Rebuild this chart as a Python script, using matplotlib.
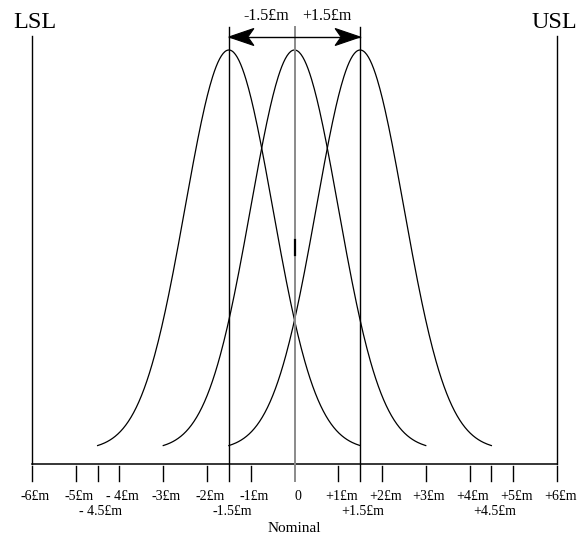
import numpy as np
import matplotlib
matplotlib.use("Agg")
import matplotlib.pyplot as plt
from matplotlib.patches import Polygon

plt.rcParams['font.family'] = ['Liberation Serif', 'DejaVu Serif']

# process means (in sigma units) of the three shifted distributions
means = [-1.5, 0.0, 1.5]
spread = 3.0  # each curve drawn out to +/- 3 sigma

# spec limits
spec_pos = [-6, 6]
spec_names = ["LSL", "USL"]

# axis ticks
major_ticks = [-6, -5, -4, -3, -2, -1, 0, 1, 2, 3, 4, 5, 6]
major_labels = ["-6£m", "-5£m", "- 4£m", "-3£m", "-2£m", "-1£m", "0",
                "+1£m", "+2£m", "+3£m", "+4£m", "+5£m", "+6£m"]
half_ticks = [-4.5, -1.5, 1.5, 4.5]
half_labels = ["- 4.5£m", "-1.5£m", "+1.5£m", "+4.5£m"]
shift_labels = ["-1.5£m", "+1.5£m"]

# vertical layout (pixel-ish units above the axis line)
base, peak = 14, 400
top_lines, top_spec, arrow_y = 437, 428, 427
tick_len = 17

fig = plt.figure(figsize=(5.81, 5.35), dpi=100)
ax = fig.add_axes([0, 0, 1, 1])
ppu = 43.75
ax.set_xlim(-6 - 32 / ppu, -6 + 549 / ppu)
ax.set_ylim(-(535 - 464), 464)
ax.axis("off")

# curves
for m in means:
    x = np.linspace(m - spread, m + spread, 300)
    y = base + peak * np.exp(-0.5 * (x - m) ** 2)
    ax.plot(x, y, color="black", lw=0.9)

# axis line
ax.plot([spec_pos[0], spec_pos[1]], [0, 0], color="black", lw=1.1)

# spec limit lines + labels
for p, name, dx in zip(spec_pos, spec_names, [0.07, -0.07]):
    ax.plot([p, p], [0, top_spec], color="black", lw=1.0)
    ax.text(p + dx, 442, name, fontsize=17.5, ha="center", va="center")

# mean lines
for m in means:
    col = "#8a8a8a" if m == 0 else "black"
    lw = 1.4 if m == 0 else 1.0
    ax.plot([m, m], [-tick_len, top_lines], color=col, lw=lw)
ax.plot([0, 0], [209, 224], color="black", lw=1.6)

# ticks
for t in major_ticks + half_ticks:
    if t in means:
        continue
    ax.plot([t, t], [-2, -tick_len], color="black", lw=1.0)

for t, lab in zip(major_ticks, major_labels):
    ax.text(t + 0.07, -32.5, lab, fontsize=10, ha="center", va="center")
for t, lab in zip(half_ticks, half_labels):
    ax.text(t + 0.07, -47.5, lab, fontsize=10, ha="center", va="center")
ax.text(0, -64, "Nominal", fontsize=11, ha="center", va="center")

# shift arrow (shaft + two stealth heads)
ax.plot([means[0], means[2]], [arrow_y, arrow_y], color="black", lw=1.0)
hl, notch, hw = 25 / ppu, 19 / ppu, 8.5
for tip, d in [(means[0], 1), (means[2], -1)]:
    head = Polygon([(tip, arrow_y), (tip + d * hl, arrow_y + hw),
                    (tip + d * notch, arrow_y), (tip + d * hl, arrow_y - hw)],
                   closed=True, facecolor="black", edgecolor="black", lw=0.8)
    ax.add_patch(head)
ax.text(-0.65, 448, shift_labels[0], fontsize=11.5, ha="center", va="center")
ax.text(0.73, 448, shift_labels[1], fontsize=11.5, ha="center", va="center")

fig.savefig("out.png", dpi=100)
